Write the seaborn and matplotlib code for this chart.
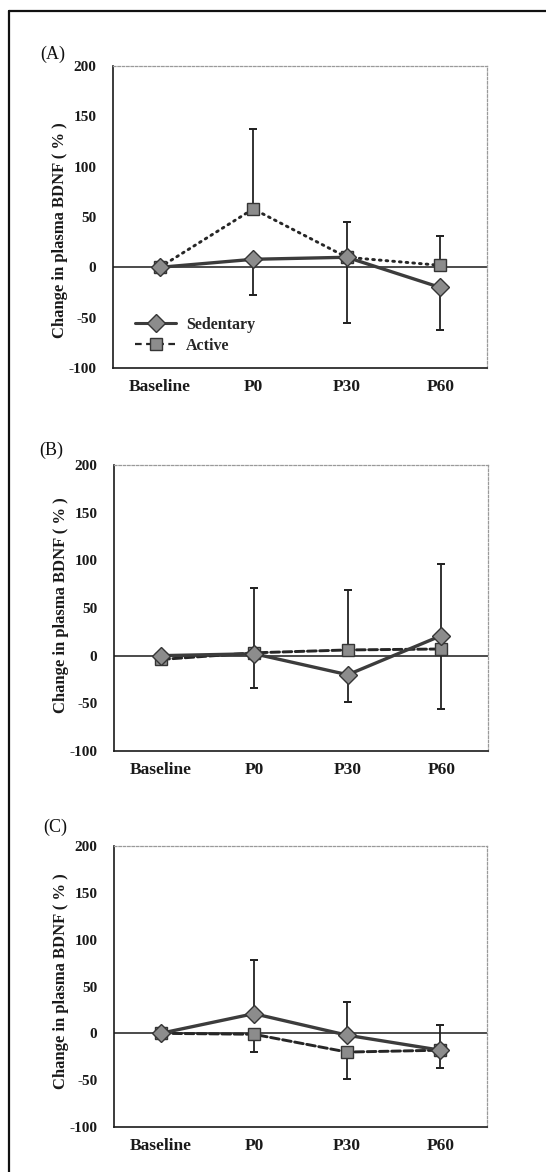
import numpy as np
import pandas as pd
import matplotlib
matplotlib.use("Agg")
import matplotlib.pyplot as plt
from matplotlib.lines import Line2D
import seaborn as sns

# ---------------- data ----------------
timepoints = ["Baseline", "P0", "P30", "P60"]
yticks = [-100, -50, 0, 50, 100, 150, 200]
panel_labels = ["(A)", "(B)", "(C)"]
ylabel_text = "Change in plasma BDNF ( % )"
series_names = ["Sedentary", "Active"]

# Panel A
sed_A = [0, 8, 10, -20]
act_A = [0, 58, 10, 2]
sed_A_up = [0, 0, 0, 0]
sed_A_down = [0, 35, 65, 42]
act_A_up = [0, 79, 35, 29]
act_A_down = [0, 0, 0, 0]

# Panel B
sed_B = [0, 2, -20, 21]
act_B = [-4, 3, 6, 7]
sed_B_up = [0, 0, 0, 75]
sed_B_down = [0, 36, 29, 0]
act_B_up = [0, 68, 63, 0]
act_B_down = [0, 0, 0, 63]

# Panel C
sed_C = [0, 21, -2, -18]
act_C = [0, -1, -20, -18]
sed_C_up = [0, 57, 35, 27]
sed_C_down = [0, 0, 0, 0]
act_C_up = [0, 0, 0, 0]
act_C_down = [0, 19, 29, 19]

panels = [
    (sed_A, sed_A_up, sed_A_down, act_A, act_A_up, act_A_down, (0, (0.6, 1.7))),
    (sed_B, sed_B_up, sed_B_down, act_B, act_B_up, act_B_down, (0, (3.0, 1.2))),
    (sed_C, sed_C_up, sed_C_down, act_C, act_C_up, act_C_down, (0, (3.0, 1.2))),
]

# ---------------- style ----------------
sns.set_theme(style="white")
plt.rcParams["font.family"] = ["Liberation Serif", "DejaVu Serif"]

W, H = 546, 1172
fig = plt.figure(figsize=(W / 100, H / 100), dpi=100)
fig.patch.set_facecolor("white")

# axes boxes in pixels: (left, top, right, bottom)
boxes = [(113, 66, 487, 368), (114, 465, 488, 751), (114, 846, 487, 1127)]
label_pos = [(53, 54), (51, 450), (55, 827)]
ylabel_y = [0.455, 0.51, 0.52]

line_col = "#3c3c3c"
face_col = "#8c8c8c"
edge_col = "#353535"
err_col = "#222222"

for i, (box, pan) in enumerate(zip(boxes, panels)):
    l, t, r, b = box
    ax = fig.add_axes([l / W, 1 - b / H, (r - l) / W, (b - t) / H])
    sed, sed_up, sed_dn, act, act_up, act_dn, act_ls = pan

    # lines first (registers the categorical order on the x axis)
    sns.lineplot(x=timepoints, y=act, ax=ax, sort=False, color="#262626",
                 lw=2.1, linestyle=act_ls, dash_capstyle="round",
                 marker="s", markersize=8.5, markerfacecolor=face_col,
                 markeredgecolor=edge_col, markeredgewidth=1.0, zorder=3,
                 legend=False)
    sns.lineplot(x=timepoints, y=sed, ax=ax, sort=False, color=line_col,
                 lw=2.4, marker="D", markersize=9.5, markerfacecolor=face_col,
                 markeredgecolor=edge_col, markeredgewidth=1.0, zorder=4,
                 legend=False)

    ax.axhline(0, color="#1a1a1a", lw=1.1, zorder=1)

    # one-sided error bars
    tp = np.array(timepoints)
    for vals, up, dn in [(sed, sed_up, sed_dn), (act, act_up, act_dn)]:
        v = np.array(vals, float)
        up = np.array(up, float)
        dn = np.array(dn, float)
        mu = up > 0
        if mu.any():
            ax.errorbar(list(tp[mu]), v[mu], yerr=[np.zeros(mu.sum()), up[mu]],
                        fmt="none", ecolor=err_col, elinewidth=1.3, capsize=0, zorder=2)
            ax.errorbar(list(tp[mu]), v[mu] + up[mu], yerr=np.zeros(mu.sum()),
                        fmt="none", ecolor=err_col, elinewidth=1.3,
                        capsize=3.2, capthick=1.3, zorder=2)
        md = dn > 0
        if md.any():
            ax.errorbar(list(tp[md]), v[md], yerr=[dn[md], np.zeros(md.sum())],
                        fmt="none", ecolor=err_col, elinewidth=1.3, capsize=0, zorder=2)
            ax.errorbar(list(tp[md]), v[md] - dn[md], yerr=np.zeros(md.sum()),
                        fmt="none", ecolor=err_col, elinewidth=1.3,
                        capsize=3.2, capthick=1.3, zorder=2)

    ax.set_xlim(-0.5, 3.5)
    ax.set_ylim(-100, 200)
    ax.set_yticks(yticks)
    ax.set_yticklabels([str(v) for v in yticks], fontsize=11, fontweight="bold")
    ax.set_xticks(range(len(timepoints)))
    ax.set_xticklabels(timepoints, fontsize=12.5, fontweight="bold")
    ax.tick_params(axis="y", length=0, pad=12, colors="#1a1a1a")
    ax.tick_params(axis="x", length=0, pad=8, colors="#1a1a1a")
    ax.set_xlabel("")
    ax.set_ylabel(ylabel_text, fontsize=12, fontweight="bold", color="#1a1a1a")
    ax.yaxis.set_label_coords(-0.12, ylabel_y[i])
    for s in ["left", "bottom"]:
        ax.spines[s].set_color("#1a1a1a")
        ax.spines[s].set_linewidth(1.2)
    for s in ["top", "right"]:
        ax.spines[s].set_color("#9a9a9a")
        ax.spines[s].set_linewidth(0.9)
        ax.spines[s].set_linestyle((0, (2, 1.5)))
    ax.grid(False)
    ax.set_facecolor("white")

    lx, ly = label_pos[i]
    fig.text(lx / W, 1 - ly / H, panel_labels[i], fontsize=13, ha="center",
             va="center", color="#111111")

    if i == 0:
        handles = [
            Line2D([], [], color=line_col, lw=2.2, marker="D", markersize=9.5,
                   markerfacecolor=face_col, markeredgecolor=edge_col),
            Line2D([], [], color="#262626", lw=1.6, linestyle=(0, (3, 2)), marker="s",
                   markersize=8.5, markerfacecolor=face_col, markeredgecolor=edge_col),
        ]
        ax.legend(handles, series_names, loc="lower left", bbox_to_anchor=(0.02, 0.0),
                  frameon=False, handlelength=2.6, handletextpad=0.6,
                  labelspacing=0.3, prop={"family": "Liberation Serif",
                                         "weight": "bold", "size": 11.5})

# outer border (top & left)
fig.add_artist(Line2D([9 / W, 1.0], [1 - 11 / H, 1 - 11 / H],
                      transform=fig.transFigure, color="#111111", lw=1.6))
fig.add_artist(Line2D([9 / W, 9 / W], [0.0, 1 - 11 / H],
                      transform=fig.transFigure, color="#111111", lw=1.6))

fig.savefig("out.png", dpi=100, facecolor="white")
